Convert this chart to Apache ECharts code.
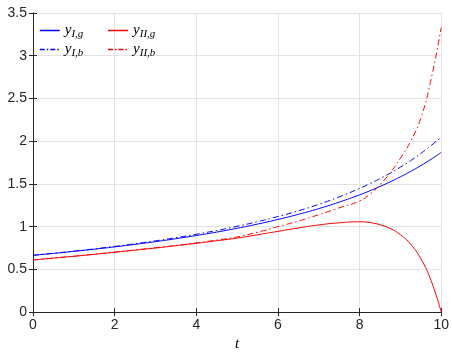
<!DOCTYPE html>
<html>
<head>
<meta charset="utf-8">
<script src="https://cdn.jsdelivr.net/npm/echarts@6/dist/echarts.min.js"></script>
<style>
  html, body { margin: 0; padding: 0; background: #fff; }
  #chart { width: 452px; height: 357px; }
</style>
</head>
<body>
<div id="chart"></div>
<script>
// sample points
const t = [0, 0.5, 1, 1.5, 2, 2.5, 3, 3.5, 4, 4.5, 5, 5.5, 6, 6.5, 7, 7.5, 8, 8.25, 8.5, 8.75, 9, 9.25, 9.5, 9.75, 10];
const yIg = [0.665, 0.687, 0.711, 0.736, 0.763, 0.793, 0.824, 0.859, 0.896, 0.936, 0.981, 1.030, 1.084, 1.144, 1.211, 1.287, 1.372, 1.419, 1.470, 1.524, 1.583, 1.646, 1.714, 1.788, 1.869];
const yIIg = [0.61, 0.632, 0.653, 0.676, 0.70, 0.725, 0.75, 0.777, 0.805, 0.835, 0.866, 0.905, 0.945, 0.985, 1.02, 1.045, 1.057, 1.048, 1.022, 0.978, 0.905, 0.795, 0.625, 0.37, 0];
const yIb = [0.665, 0.688, 0.713, 0.740, 0.769, 0.800, 0.834, 0.871, 0.911, 0.955, 1.004, 1.058, 1.118, 1.185, 1.261, 1.348, 1.447, 1.502, 1.562, 1.626, 1.696, 1.772, 1.856, 1.948, 2.049];
const yIIb = [0.61, 0.632, 0.654, 0.678, 0.702, 0.727, 0.753, 0.78, 0.81, 0.843, 0.88, 0.935, 1.0, 1.065, 1.14, 1.22, 1.30, 1.38, 1.49, 1.63, 1.80, 2.0, 2.27, 2.72, 3.33];

const xMin = 0, xMax = 10, xStep = 2;
const yMin = 0, yMax = 3.5, yStep = 0.5;

const subs = { yIg: 'I,g', yIIg: 'II,g', yIb: 'I,b', yIIb: 'II,b' };
const colors = { yIg: '#0000ff', yIIg: '#ff0000', yIb: '#0000ff', yIIb: '#ff0000' };
const dashedSet = { yIb: true, yIIb: true };

const axisColor = '#262626';
const dashDot = [6, 3, 1.5, 3];

const pairs = ys => t.map((x, i) => [x, ys[i]]);

function lineType(name) {
    return dashedSet[name] ? dashDot : 'solid';
}

function line(name, ys) {
    return {
        name: name,
        type: 'line',
        data: pairs(ys),
        smooth: true,
        symbol: 'none',
        lineStyle: { color: colors[name], width: 1, type: lineType(name) },
        itemStyle: { color: colors[name] },
        z: 3
    };
}

function legend(top, names) {
    return {
        left: 39,
        top: top,
        data: names.map(n => ({
            name: n,
            itemStyle: { opacity: 0 },
            lineStyle: { color: colors[n], width: 1.5, type: dashedSet[n] ? [5, 2, 1.5, 2] : 'solid' }
        })),
        itemWidth: 20,
        itemHeight: 11,
        itemGap: 24,
        padding: 0,
        formatter: n => '{y|y}{s|' + subs[n] + '}',
        textStyle: {
            rich: {
                y: { fontFamily: 'Liberation Serif', fontStyle: 'italic', fontSize: 15, color: '#000' },
                s: { fontFamily: 'Liberation Serif', fontStyle: 'italic', fontSize: 11, color: '#000', padding: [8, 0, 0, 0] }
            }
        }
    };
}

const frameX = {
    type: 'value', min: xMin, max: xMax, interval: xStep,
    axisLine: { show: true, lineStyle: { color: axisColor, width: 1 } },
    axisTick: { show: true, inside: true, length: 4, lineStyle: { color: axisColor } },
    splitLine: { show: false },
    axisLabel: { show: false }
};
const frameY = {
    type: 'value', min: yMin, max: yMax, interval: yStep,
    axisLine: { show: true, lineStyle: { color: axisColor, width: 1 } },
    axisTick: { show: true, inside: true, length: 4, lineStyle: { color: axisColor } },
    splitLine: { show: false },
    axisLabel: { show: false }
};

const chart = echarts.init(document.getElementById('chart'));
chart.setOption({
    animation: false,
    grid: { left: 33, right: 9, top: 13, bottom: 37 },
    legend: [
        legend(23, ['yIg', 'yIIg']),
        legend(42, ['yIb', 'yIIb'])
    ],
    xAxis: [
        Object.assign({}, frameX, {
            position: 'bottom',
            name: 't',
            nameLocation: 'middle',
            nameGap: 23,
            nameTextStyle: { fontFamily: 'Liberation Serif', fontStyle: 'italic', fontSize: 15, color: '#000' },
            splitLine: { show: true, lineStyle: { color: '#e3e3e3', width: 1 } },
            axisLabel: { show: true, margin: 6, fontFamily: 'Liberation Sans', fontSize: 14, color: axisColor }
        }),
        Object.assign({}, frameX, { position: 'top' })
    ],
    yAxis: [
        Object.assign({}, frameY, {
            position: 'left',
            splitLine: { show: true, lineStyle: { color: '#e3e3e3', width: 1 } },
            axisLabel: { show: true, margin: 6, fontFamily: 'Liberation Sans', fontSize: 14, color: axisColor }
        }),
        Object.assign({}, frameY, { position: 'right' })
    ],
    series: [
        line('yIg', yIg),
        line('yIIg', yIIg),
        line('yIb', yIb),
        line('yIIb', yIIb)
    ]
});
</script>
</body>
</html>
